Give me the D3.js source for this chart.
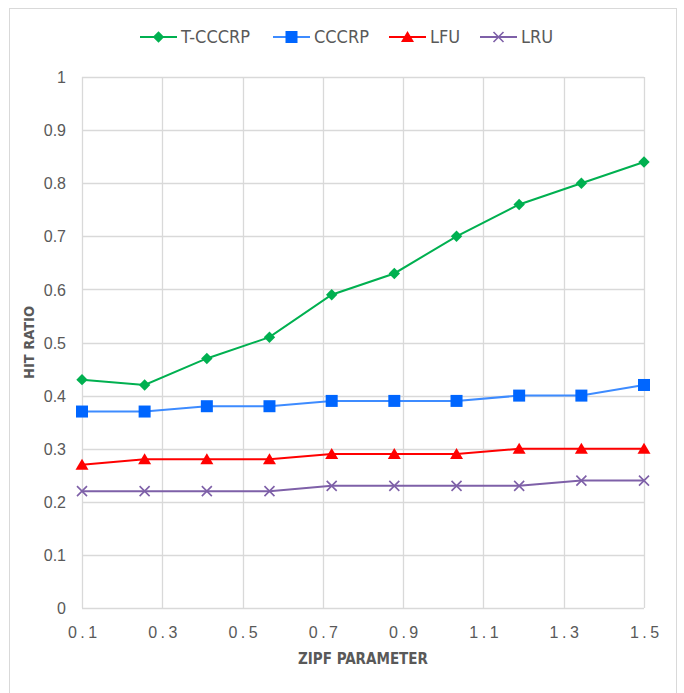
<!DOCTYPE html>
<html><head><meta charset="utf-8">
<script src="https://cdn.jsdelivr.net/npm/d3@7"></script>
<style>body{margin:0;background:#fff;}svg{display:block;font-family:"Liberation Sans Narrow","DejaVu Sans Condensed","Liberation Sans",sans-serif;}</style>
</head><body>
<script>
const xValues = [0.1, 0.256, 0.411, 0.567, 0.722, 0.878, 1.033, 1.189, 1.344, 1.5];
const tccrp = [0.43, 0.42, 0.47, 0.51, 0.59, 0.63, 0.70, 0.76, 0.80, 0.84];
const cccrp = [0.37, 0.37, 0.38, 0.38, 0.39, 0.39, 0.39, 0.40, 0.40, 0.42];
const lfu = [0.27, 0.28, 0.28, 0.28, 0.29, 0.29, 0.29, 0.30, 0.30, 0.30];
const lru = [0.22, 0.22, 0.22, 0.22, 0.23, 0.23, 0.23, 0.23, 0.24, 0.24];
const xTicks = [0.1, 0.3, 0.5, 0.7, 0.9, 1.1, 1.3, 1.5];
const yTicks = [0, 0.1, 0.2, 0.3, 0.4, 0.5, 0.6, 0.7, 0.8, 0.9, 1];
const seriesNames = ["T-CCCRP", "CCCRP", "LFU", "LRU"];

const series = [
  {name: seriesNames[0], values: tccrp, line: "#00B050", fill: "#00B050", marker: "diamond"},
  {name: seriesNames[1], values: cccrp, line: "#3D8BFF", fill: "#0066FF", marker: "square"},
  {name: seriesNames[2], values: lfu, line: "#FF0000", fill: "#FF0000", marker: "triangle"},
  {name: seriesNames[3], values: lru, line: "#7E60A8", fill: "#7E60A8", marker: "cross"}
];

const W = 684, H = 693;
const svg = d3.select("body").append("svg").attr("width", W).attr("height", H);
svg.append("rect").attr("x", 9.5).attr("y", 8.5).attr("width", 667).attr("height", 700)
  .attr("fill", "#fff").attr("stroke", "#d9d9d9");

const x = d3.scaleLinear().domain([0.1, 1.5]).range([82, 644]);
const y = d3.scaleLinear().domain([0, 1]).range([608, 77]);

// gridlines
const g = svg.append("g");
g.selectAll("line.h").data(yTicks).join("line")
  .attr("x1", x(0.1)).attr("x2", x(1.5)).attr("y1", d => Math.round(y(d)) + 0.5).attr("y2", d => Math.round(y(d)) + 0.5)
  .attr("stroke", "#d9d9d9").attr("stroke-width", 1.3);
g.selectAll("line.v").data(xTicks).join("line")
  .attr("y1", y(0)).attr("y2", y(1)).attr("x1", d => Math.round(x(d)) + 0.5).attr("x2", d => Math.round(x(d)) + 0.5)
  .attr("stroke", "#d9d9d9").attr("stroke-width", 1.3);

// axes labels via d3 axes
const yAxis = svg.append("g").attr("transform", `translate(${x(0.1)},0)`)
  .call(d3.axisLeft(y).tickValues(yTicks).tickFormat(d => d3.format("")(+d.toFixed(1))).tickSize(0).tickPadding(16));
yAxis.select(".domain").remove();
yAxis.selectAll("text").attr("fill", "#595959").style("font-size", "16px").attr("dy", "0.35em");

const xAxis = svg.append("g").attr("transform", `translate(0,${y(0)})`)
  .call(d3.axisBottom(x).tickValues(xTicks).tickFormat(d3.format(".1f")).tickSize(0));
xAxis.select(".domain").remove();
xAxis.selectAll("text").attr("fill", "#595959").style("font-size", "16px").style("letter-spacing", "3.5px")
  .attr("y", 24).attr("dy", "0.35em").attr("dx", "1.75px");

svg.append("text").attr("transform", `translate(34,${(y(0)+y(1))/2}) rotate(-90)`)
  .attr("text-anchor", "middle").attr("fill", "#595959").style("font-size", "14.5px").style("font-weight", "bold")
  .text("HIT RATIO");
svg.append("text").attr("x", 363).attr("y", 664)
  .attr("text-anchor", "middle").attr("fill", "#595959").style("font-size", "15px").style("font-weight", "bold")
  .text("ZIPF PARAMETER");

function drawMarker(sel, type, fill) {
  if (type === "cross") {
    const s = 5;
    sel.append("path").attr("d", `M${-s},${-s}L${s},${s}M${-s},${s}L${s},${-s}`)
      .attr("stroke", fill).attr("stroke-width", 1.6).attr("fill", "none");
  } else if (type === "diamond") {
    const s = 5.7;
    sel.append("path").attr("d", `M0,${-s}L${s},0L0,${s}L${-s},0Z`).attr("fill", fill);
  } else if (type === "square") {
    const s = 6;
    sel.append("rect").attr("x", -s).attr("y", -s).attr("width", 2*s).attr("height", 2*s).attr("fill", fill);
  } else if (type === "triangle") {
    sel.append("path").attr("d", `M0,-6L6.5,5L-6.5,5Z`).attr("fill", fill);
  }
}

const line = d3.line().x((d, i) => x(xValues[i])).y(d => y(d));
series.forEach(s => {
  svg.append("path").datum(s.values).attr("d", line).attr("fill", "none")
    .attr("stroke", s.line).attr("stroke-width", 2);
  s.values.forEach((v, i) => {
    const m = svg.append("g").attr("transform", `translate(${x(xValues[i])},${y(v)})`);
    drawMarker(m, s.marker, s.fill);
  });
});

// legend
const legendX = [140, 273, 389, 480];
series.forEach((s, i) => {
  const lg = svg.append("g").attr("transform", `translate(${legendX[i]},37)`);
  lg.append("line").attr("x1", 0).attr("x2", 37).attr("y1", 0).attr("y2", 0).attr("stroke", s.line).attr("stroke-width", 2);
  const m = lg.append("g").attr("transform", "translate(18.5,0)");
  drawMarker(m, s.marker, s.fill);
  lg.append("text").attr("x", 41).attr("y", 0).attr("dy", "0.36em").attr("fill", "#595959")
    .style("font-size", "18px").text(s.name);
});
</script>
</body></html>
